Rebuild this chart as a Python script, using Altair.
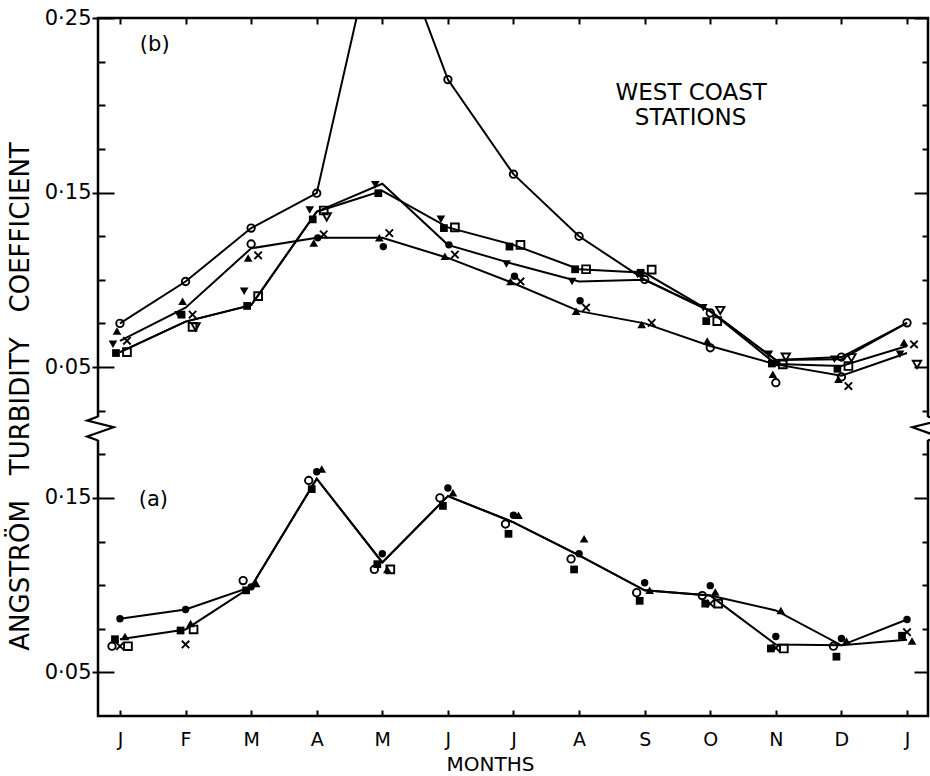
import altair as alt
import pandas as pd

MONTH_LABELS = ["J", "F", "M", "A", "M", "J", "J", "A", "S", "O", "N", "D", "J"]

# ---------------- panel (b): connecting lines (values of the Angstrom coefficient)
B_LINE_CIRCLE = [0.075, 0.099, 0.1296, 0.1496, 0.315, 0.2147, 0.1605, 0.1249, 0.1001, 0.082, 0.054, 0.0557, 0.0753]
B_LINE_SQUARE = [0.0585, 0.076, 0.0854, 0.139, 0.151, 0.130, 0.120, 0.106, 0.104, 0.082, 0.0517, 0.0506, 0.062]
B_LINE_DOWNTRI = [0.0585, 0.076, 0.0854, 0.139, 0.155, 0.120, 0.109, 0.099, 0.100, 0.082, 0.054, 0.0544, 0.0753]
B_LINE_TRI = [0.065, 0.084, 0.118, 0.124, 0.124, 0.1125, 0.098, 0.082, 0.075, 0.062, 0.0515, 0.045, 0.058]

# ---------------- panel (b): station symbols
B_OPEN_CIRCLE = [0.075, 0.099, 0.1296, 0.1496, None, 0.2147, 0.1605, 0.1249, 0.1001, 0.081, 0.041, 0.0557, 0.0753]
B_OPEN_CIRCLE_2 = [None, None, 0.1205, None, None, None, None, None, None, 0.061, None, 0.0443, None]
B_OPEN_SQUARE = [0.0585, 0.073, 0.0906, 0.1397, None, 0.130, 0.120, 0.106, 0.1058, 0.0763, 0.0515, 0.0506, None]
B_FILLED_SQUARE = [0.058, 0.080, 0.085, 0.1346, 0.1496, 0.1296, 0.119, 0.106, 0.104, 0.0763, 0.052, 0.049, None]
B_DOWN_TRI = [0.063, 0.080, 0.0934, 0.140, 0.1544, 0.1346, 0.109, 0.099, 0.103, 0.0839, 0.0573, 0.0544, 0.0573]
B_DOWN_TRI_OPEN = [None, 0.073, None, 0.136, None, None, None, None, None, 0.0824, 0.0557, 0.0553, 0.0515]
B_UP_TRI = [0.0706, 0.0877, 0.1125, 0.121, 0.124, 0.1134, 0.099, 0.082, 0.0744, 0.0649, 0.0458, 0.043, 0.064]
B_FILLED_CIRCLE = [None, None, None, 0.124, 0.119, 0.120, 0.102, 0.088, None, None, 0.0525, None, None]
B_CROSS = [0.065, 0.080, 0.114, 0.126, 0.1267, 0.1144, 0.099, 0.084, 0.0753, None, None, 0.0391, 0.063]

# ---------------- panel (a): connecting lines
A_LINE_CIRCLE = [0.0807, 0.086, 0.099, 0.161, 0.113, 0.151, 0.136, 0.117, 0.097, 0.094, 0.066, 0.0655, 0.0803]
A_LINE_TRI = [0.069, 0.0746, 0.099, 0.161, 0.113, 0.151, 0.136, 0.117, 0.097, 0.094, 0.0855, 0.0655, 0.0687]

# ---------------- panel (a): station symbols
A_FILLED_CIRCLE = [0.0807, 0.086, 0.099, 0.165, 0.118, 0.1557, 0.140, 0.118, 0.1014, 0.0997, 0.0706, 0.0694, 0.0803]
A_OPEN_CIRCLE = [0.065, None, 0.1026, 0.160, 0.109, 0.150, 0.135, 0.115, 0.0957, 0.094, None, 0.065, None]
A_OPEN_SQUARE = [0.065, 0.0746, None, None, 0.109, None, None, None, None, 0.0894, 0.0637, None, None]
A_FILLED_SQUARE = [0.069, 0.074, 0.097, 0.155, 0.112, 0.1454, 0.1294, 0.109, 0.091, 0.0894, 0.0637, 0.059, 0.071]
A_UP_TRI = [0.0705, 0.078, 0.101, 0.1666, 0.109, 0.153, 0.140, 0.1266, 0.097, 0.096, 0.0855, 0.068, 0.068]
A_CROSS = [0.065, 0.066, None, None, None, None, None, None, None, 0.0894, 0.064, None, 0.073]

SHIFT_A = 0.175  # panel (a) is drawn below the axis break, shifted by this amount

LINES = [("b", "circle", B_LINE_CIRCLE), ("b", "square", B_LINE_SQUARE),
         ("b", "downtri", B_LINE_DOWNTRI), ("b", "tri", B_LINE_TRI),
         ("a", "circle", A_LINE_CIRCLE), ("a", "tri", A_LINE_TRI)]

SYMBOLS = [("b", "open_circle", B_OPEN_CIRCLE), ("b", "open_circle2", B_OPEN_CIRCLE_2),
           ("b", "open_square", B_OPEN_SQUARE), ("b", "filled_square", B_FILLED_SQUARE),
           ("b", "down_tri", B_DOWN_TRI), ("b", "down_tri_open", B_DOWN_TRI_OPEN),
           ("b", "up_tri", B_UP_TRI), ("b", "filled_circle", B_FILLED_CIRCLE),
           ("b", "cross", B_CROSS),
           ("a", "filled_circle", A_FILLED_CIRCLE), ("a", "open_circle", A_OPEN_CIRCLE),
           ("a", "open_square", A_OPEN_SQUARE), ("a", "filled_square", A_FILLED_SQUARE),
           ("a", "up_tri", A_UP_TRI), ("a", "cross", A_CROSS)]

X_PATH = "M-1,-1L1,1M1,-1L-1,1"
STYLE = {
    "open_circle": dict(shape="circle", filled=False, size=55, dx=0),
    "open_circle2": dict(shape="circle", filled=False, size=55, dx=0),
    "open_square": dict(shape="square", filled=False, size=60, dx=7),
    "filled_square": dict(shape="square", filled=True, size=60, dx=-4),
    "down_tri": dict(shape="triangle-down", filled=True, size=75, dx=-7),
    "down_tri_open": dict(shape="triangle-down", filled=False, size=70, dx=10),
    "up_tri": dict(shape="triangle-up", filled=True, size=75, dx=-3),
    "filled_circle": dict(shape="circle", filled=True, size=55, dx=1),
    "cross": dict(shape=X_PATH, filled=False, size=55, dx=7),
}
STYLE_A_DX = {"filled_circle": 0, "open_circle": -8, "open_square": 8,
              "filled_square": -5, "up_tri": 5, "cross": 0}

rows = []
for panel, name, vals in LINES:
    for i, v in enumerate(vals):
        if v is not None:
            rows.append(dict(kind="line", panel=panel, series=panel + "_" + name, month=i, value=v))
for panel, name, vals in SYMBOLS:
    for i, v in enumerate(vals):
        if v is not None:
            rows.append(dict(kind="sym", panel=panel, series=panel + "_" + name, month=i, value=v))
df = pd.DataFrame(rows)

W, H = 830, 698
X_DOMAIN = [-0.335, 12.32]
Y_DOMAIN = [-0.15, 0.25]
FONT = "DejaVu Sans"
xs = alt.Scale(domain=X_DOMAIN, nice=False, zero=False)
ys = alt.Scale(domain=Y_DOMAIN, nice=False, zero=False)

MAJOR = [0.25, 0.15, 0.05, -0.025, -0.125]
MINOR = [0.225, 0.2, 0.175, 0.125, 0.1, 0.075, 0.025, 0.0, -0.05, -0.075, -0.1]
MONTH_VALUES = list(range(13))

y_label_expr = ("replace(format(datum.value > 0.01 ? datum.value : datum.value + %s, '.2f'), '.', '·')" % SHIFT_A)
month_expr = "[" + ",".join("'%s'" % m for m in MONTH_LABELS) + "][round(datum.value)]"

GAP = "\u00a0" * 3
Y_TITLE = "ANGSTRÖM" + GAP + "TURBIDITY" + GAP + "COEFFICIENT"

base = alt.Chart(df).transform_calculate(
    yplot="datum.panel == 'a' ? datum.value - %s : datum.value" % SHIFT_A
)

def no_axis_y():
    return alt.Y("yplot:Q", scale=ys, axis=None)

def no_axis_x():
    return alt.X("month:Q", scale=xs, axis=None)

lines = base.transform_filter("datum.kind == 'line'").mark_line(
    color="black", strokeWidth=2, clip=True
).encode(
    x=alt.X("month:Q", scale=xs, axis=alt.Axis(
        values=MONTH_VALUES, labelExpr=month_expr, tickSize=0, domain=False, grid=False,
        labelFont=FONT, labelFontSize=19, labelColor="black", labelPadding=14,
        title="MONTHS", titleFont=FONT, titleFontSize=20, titleFontWeight="normal",
        titleColor="black", titleX=392, titleY=54, titleBaseline="alphabetic")),
    y=alt.Y("yplot:Q", scale=ys, axis=alt.Axis(
        values=MAJOR, labelExpr=y_label_expr, tickSize=6, tickWidth=2, tickColor="black",
        domain=False, grid=False, labelFont=FONT, labelFontSize=21, labelColor="black",
        labelPadding=1,
        title=Y_TITLE, titleFont=FONT, titleFontSize=26,
        titleFontWeight="normal", titleColor="black", titleX=-78, titleY=378,
        titleAngle=-90, titleBaseline="middle", titleAlign="center")),
    detail="series:N",
    order="month:Q",
)

def tick_layer(x_axis, y_axis):
    return base.transform_filter("datum.kind == 'line'").mark_point(opacity=0).encode(
        x=alt.X("month:Q", scale=xs, axis=x_axis),
        y=alt.Y("yplot:Q", scale=ys, axis=y_axis),
    )

def tick_axis(orient, offset, values, size):
    return alt.Axis(orient=orient, offset=offset, values=values, labels=False, tickSize=size,
                    tickWidth=2, tickColor="black", domain=False, grid=False, title=None)

ax1 = tick_layer(tick_axis("bottom", -H, MONTH_VALUES, 6), tick_axis("right", -W, MAJOR, 16))
ax2 = tick_layer(tick_axis("top", -H, MONTH_VALUES, 6), tick_axis("right", -W, MINOR, 7))
ax3 = tick_layer(None, tick_axis("left", -W, MAJOR, 14))
ax4 = tick_layer(None, tick_axis("left", -W, MINOR, 6))

sym_layers = []
for panel, name, vals in SYMBOLS:
    st = STYLE[name]
    dx = STYLE_A_DX.get(name, st["dx"]) if panel == "a" else st["dx"]
    sym_layers.append(
        base.transform_filter("datum.kind == 'sym' && datum.series == '%s_%s'" % (panel, name))
        .mark_point(shape=st["shape"], filled=st["filled"], size=st["size"], color="black",
                    strokeWidth=1.9, opacity=1, fillOpacity=1, xOffset=dx, clip=True)
        .encode(x=no_axis_x(), y=no_axis_y())
    )

# axis break (zig-zag) on both vertical frame lines
ZIG = "M0,-1L-0.9,-0.65L1.3,-0.1L-0.9,0.68L0,1"
ZAG = "M0,-1L0.9,-0.65L-1.3,-0.1L0.9,0.68L0,1"
BREAK_Y = 0.0148
cover = []
zig = []
for xv, path in ((X_DOMAIN[0], ZIG), (X_DOMAIN[1], ZAG)):
    cover.append(alt.Chart(pd.DataFrame({"k": [0]})).mark_rule(color="white", strokeWidth=7).encode(
        x=alt.XDatum(xv, scale=xs, axis=None),
        y=alt.YDatum(0.0213, scale=ys, axis=None),
        y2=alt.Y2Datum(0.0082)))
    zig.append(alt.Chart(pd.DataFrame({"k": [0]})).mark_point(
        shape=path, filled=False, size=576, color="black", strokeWidth=2.2, opacity=1).encode(
        x=alt.XDatum(xv, scale=xs, axis=None),
        y=alt.YDatum(BREAK_Y, scale=ys, axis=None)))

def label(text, xv, yv, size):
    return alt.Chart(pd.DataFrame({"t": [text]})).mark_text(
        font=FONT, fontSize=size, color="black", align="center", baseline="middle").encode(
        x=alt.XDatum(xv, scale=xs, axis=None),
        y=alt.YDatum(yv, scale=ys, axis=None),
        text="t:N")

texts = [label("(b)", 0.53, 0.2345, 21), label("(a)", 0.51, -0.026, 21),
         label("WEST COAST", 8.71, 0.2068, 23), label("STATIONS", 8.7, 0.1925, 23)]

chart = alt.layer(lines, ax1, ax2, ax3, ax4, *sym_layers, *cover, *zig, *texts).resolve_axis(
    x="independent", y="independent"
).resolve_scale(x="shared", y="shared").properties(
    width=W, height=H,
    padding={"left": 98, "top": 18, "right": 2, "bottom": 60},
    autosize=alt.AutoSizeParams(type="none"),
    background="white",
).configure_view(stroke="black", strokeWidth=2.5)

chart.save("out.html", embed_options={"renderer": "svg", "actions": False})
